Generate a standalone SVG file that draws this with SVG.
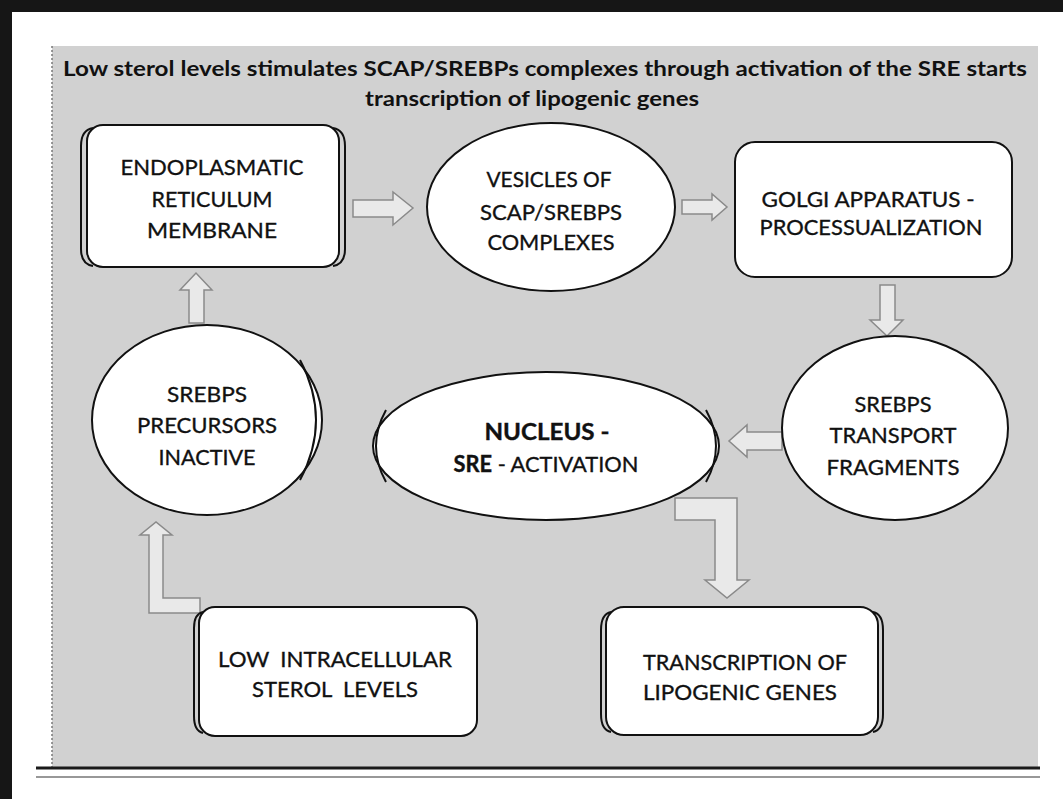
<svg xmlns="http://www.w3.org/2000/svg" width="1063" height="799" viewBox="0 0 1063 799">
<style>
.node{fill:#ffffff;stroke:#111111;stroke-width:2}
.dbl{fill:none;stroke:#111111;stroke-width:2}
.t{font-family:Lato,"Open Sans","Liberation Sans",sans-serif;font-size:22px;fill:#111111;stroke:#111111;stroke-width:0.35;text-anchor:middle;white-space:pre}
.b{font-weight:bold}
.title{font-family:Lato,"Open Sans","Liberation Sans",sans-serif;font-size:21px;font-weight:bold;fill:#111111;text-anchor:middle}
.arr{fill:#e9e9e9;stroke:#8a8a8a;stroke-width:1.5;stroke-linejoin:miter}
</style>
<rect x="0" y="0" width="1063" height="799" fill="#ffffff"/>
<rect x="0" y="0" width="1063" height="12" fill="#161616"/>
<rect x="0" y="0" width="12" height="799" fill="#161616"/>
<rect x="52" y="46" width="986" height="721" fill="#d1d1d1"/>
<line x1="52" y1="46" x2="52" y2="767" stroke="#7a7a7a" stroke-width="1.5" stroke-dasharray="2 2"/>
<line x1="36" y1="768" x2="1040" y2="768" stroke="#1a1a1a" stroke-width="3"/>
<line x1="36" y1="777" x2="1040" y2="777" stroke="#333333" stroke-width="1.2"/>

<g id="title">
<text class="title" x="545" y="76" textLength="964" lengthAdjust="spacingAndGlyphs">Low sterol levels stimulates SCAP/SREBPs complexes through activation of the SRE starts</text>
<text class="title" x="532" y="106" textLength="334" lengthAdjust="spacingAndGlyphs">transcription of lipogenic genes</text>
</g>

<g id="connectors">
<polygon class="arr" points="353,200 393,200 393,192 413,208 393,225 393,217 353,217"/>
<polygon class="arr" points="682,200 712,200 712,194 727,207 712,220 712,214 682,214"/>
<polygon class="arr" points="880,285 895,285 895,320 903,320 887,336 870,320 880,320"/>
<polygon class="arr" points="782,432 747,432 747,425 729,441 747,457 747,450 782,450"/>
<polygon class="arr" points="675,498 737,498 737,580 749,580 727,598 705,580 715,580 715,520 675,520"/>
<polygon class="arr" points="200,598 163,598 163,535 172,535 156,522 140,535 149,535 149,613 200,613"/>
<polygon class="arr" points="189,323 189,290 180,290 196,273 212,290 204,290 204,323"/>
</g>

<g id="er-membrane">
<rect class="node" x="87" y="125" width="252" height="142" rx="16"/>
<path class="dbl" d="M93,128 Q81,130 81,146 L81,249 Q81,264 93,266"/>
<path class="dbl" d="M333,128 Q345,130 345,146 L345,249 Q345,264 333,266"/>
<text class="t" x="212" y="175" textLength="183" lengthAdjust="spacingAndGlyphs">ENDOPLASMATIC</text>
<text class="t" x="212" y="207" textLength="121" lengthAdjust="spacingAndGlyphs">RETICULUM</text>
<text class="t" x="212" y="238" textLength="130" lengthAdjust="spacingAndGlyphs">MEMBRANE</text>
</g>

<g id="vesicles">
<ellipse class="node" cx="551" cy="207" rx="124" ry="84" stroke-width="2.5"/>
<text class="t" x="549" y="187" textLength="125" lengthAdjust="spacingAndGlyphs">VESICLES OF</text>
<text class="t" x="551" y="220" textLength="142" lengthAdjust="spacingAndGlyphs">SCAP/SREBPS</text>
<text class="t" x="551" y="250" textLength="127" lengthAdjust="spacingAndGlyphs">COMPLEXES</text>
</g>

<g id="golgi">
<rect class="node" x="735" y="142" width="277" height="135" rx="20"/>
<text class="t" x="868" y="207" textLength="213" lengthAdjust="spacingAndGlyphs">GOLGI APPARATUS -</text>
<text class="t" x="871" y="235" textLength="223" lengthAdjust="spacingAndGlyphs">PROCESSUALIZATION</text>
</g>

<g id="transport-fragments">
<ellipse class="node" cx="895" cy="428" rx="113" ry="92" stroke-width="2.5"/>
<text class="t" x="893" y="412" textLength="77" lengthAdjust="spacingAndGlyphs">SREBPS</text>
<text class="t" x="893" y="443" textLength="127" lengthAdjust="spacingAndGlyphs">TRANSPORT</text>
<text class="t" x="893" y="475" textLength="133" lengthAdjust="spacingAndGlyphs">FRAGMENTS</text>
</g>

<g id="nucleus">
<ellipse class="node" cx="546" cy="446" rx="173" ry="74"/>
<path class="dbl" d="M386,410 Q366,446 386,482"/>
<path class="dbl" d="M706,410 Q726,446 706,482"/>
<text class="t b" x="547" y="440" textLength="125" lengthAdjust="spacingAndGlyphs">NUCLEUS -</text>
<text class="t" x="546" y="472" textLength="185" lengthAdjust="spacingAndGlyphs"><tspan class="b">SRE</tspan> - ACTIVATION</text>
</g>

<g id="precursors">
<ellipse class="node" cx="207" cy="420" rx="115" ry="95"/>
<path class="dbl" d="M300,360 Q332,420 300,480"/>
<text class="t" x="207" y="402" textLength="80" lengthAdjust="spacingAndGlyphs">SREBPS</text>
<text class="t" x="207" y="433" textLength="140" lengthAdjust="spacingAndGlyphs">PRECURSORS</text>
<text class="t" x="207" y="465" textLength="97" lengthAdjust="spacingAndGlyphs">INACTIVE</text>
</g>

<g id="low-sterol">
<rect class="node" x="199" y="607" width="278" height="129" rx="16"/>
<path class="dbl" d="M203,612 Q194,614 194,628 L194,716 Q194,731 203,733"/>
<text class="t" x="335" y="667" textLength="234" lengthAdjust="spacingAndGlyphs">LOW  INTRACELLULAR</text>
<text class="t" x="335" y="697" textLength="166" lengthAdjust="spacingAndGlyphs">STEROL  LEVELS</text>
</g>

<g id="transcription">
<rect class="node" x="606" y="607" width="272" height="128" rx="18"/>
<path class="dbl" d="M611,612 Q601,614 601,630 L601,714 Q601,730 611,732"/>
<path class="dbl" d="M873,612 Q883,614 883,630 L883,714 Q883,730 873,732"/>
<text class="t" x="745" y="670" textLength="204" lengthAdjust="spacingAndGlyphs">TRANSCRIPTION OF</text>
<text class="t" x="740" y="700" textLength="194" lengthAdjust="spacingAndGlyphs">LIPOGENIC GENES</text>
</g>
</svg>
